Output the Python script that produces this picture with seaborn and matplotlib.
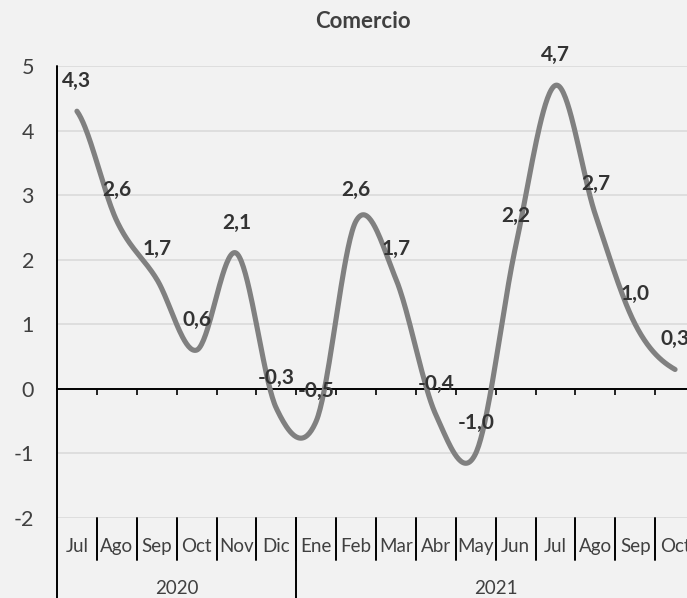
import numpy as np
import pandas as pd
import matplotlib
matplotlib.use("Agg")
import matplotlib.pyplot as plt
import seaborn as sns

# ─── Data ─────────────────────────────────────────────────────────────────────

TITLE = "Comercio"
MONTHS = ["Jul", "Ago", "Sep", "Oct", "Nov", "Dic",
          "Ene", "Feb", "Mar", "Abr", "May", "Jun",
          "Jul", "Ago", "Sep", "Oct"]
YEARS = ["2020", "2021"]
YEAR_SPANS = [6, 10]          # number of months under each year
VALUES = [4.3, 2.6, 1.7, 0.6, 2.1, -0.3,
          -0.5, 2.6, 1.7, -0.4, -1.0, 2.2,
          4.7, 2.7, 1.0, 0.3]
Y_TICKS = [-2, -1, 0, 1, 2, 3, 4, 5]

BG = "#f2f2f2"
LINE = "#808080"
TEXT = "#404040"
GRID = "#d9d9d9"


def smooth_curve(values, steps=40):
    """Catmull-Rom spline through the points (like Excel's smoothed line)."""
    y = np.asarray(values, dtype=float)
    p = np.concatenate([[y[0]], y, [y[-1]]])
    t = np.linspace(0, 1, steps, endpoint=False)
    h00 = 2 * t**3 - 3 * t**2 + 1
    h10 = t**3 - 2 * t**2 + t
    h01 = -2 * t**3 + 3 * t**2
    h11 = t**3 - t**2
    xs, ys = [], []
    for i in range(len(y) - 1):
        p0, p1, p2, p3 = p[i], p[i + 1], p[i + 2], p[i + 3]
        m1 = (p2 - p0) / 2
        m2 = (p3 - p1) / 2
        xs.append(i + t)
        ys.append(h00 * p1 + h10 * m1 + h01 * p2 + h11 * m2)
    xs.append([len(y) - 1])
    ys.append([y[-1]])
    return np.concatenate(xs), np.concatenate(ys)


# ─── Figure ───────────────────────────────────────────────────────────────────

sns.set_theme(style="white")
plt.rcParams["font.family"] = ["Lato", "DejaVu Sans"]

fig = plt.figure(figsize=(6.87, 5.98), dpi=100)
fig.patch.set_facecolor(BG)
ax = fig.add_axes([57 / 687, 80 / 598, 638 / 687, 452 / 598])
ax.set_facecolor(BG)

n = len(VALUES)
sx, sy = smooth_curve(VALUES)
curve = pd.DataFrame({"x": sx, "y": sy})
sns.lineplot(data=curve, x="x", y="y", ax=ax, color=LINE, linewidth=3.7,
             sort=False, zorder=3)
ax.lines[-1].set_solid_capstyle("round")

# data labels centred above each point
for i, v in enumerate(VALUES):
    ax.annotate(f"{v:.1f}".replace(".", ","), (i, v),
                xytext=(0, 22), textcoords="offset points",
                ha="center", va="center", fontsize=15, fontweight="bold",
                color="#333333", zorder=4)

ax.set_xlim(-0.5, n - 0.5)
ax.set_ylim(Y_TICKS[0], Y_TICKS[-1])
ax.set_yticks(Y_TICKS)
ax.set_yticklabels([str(t) for t in Y_TICKS])
ax.yaxis.grid(True, color=GRID, linewidth=1.1)
ax.set_axisbelow(True)
ax.tick_params(axis="y", left=False, length=0, pad=16.5, labelsize=15.5,
               labelcolor=TEXT)

# horizontal axis sits at zero, ticks at the category boundaries
ax.set_xticks(np.arange(n) + 0.5)
ax.set_xticklabels([])
ax.tick_params(axis="x", bottom=True, direction="out", length=4.5,
               width=1.2, color="black")
for side in ["top", "right", "left"]:
    ax.spines[side].set_visible(False)
ax.spines["bottom"].set_position(("data", 0))
ax.spines["bottom"].set_color("black")
ax.spines["bottom"].set_linewidth(1.4)
ax.set_xlabel("")
ax.set_ylabel("")

# left axis line runs down through the category table
ax.axvline(-0.5, ymin=-0.2, ymax=1, color="black", linewidth=1.4,
           clip_on=False, zorder=5)

# two-level category labels below the plot
for i, m in enumerate(MONTHS):
    ax.text(i, -0.0635, m, transform=ax.get_xaxis_transform(),
            ha="center", va="center", fontsize=13.5, color=TEXT)
for b in range(1, n):
    ax.axvline(b - 0.5, ymin=-0.093, ymax=0, color="black", linewidth=1.4,
               clip_on=False)

start = 0
for year, span in zip(YEARS, YEAR_SPANS):
    mid = start + (span - 1) / 2
    ax.text(mid, -0.155, year, transform=ax.get_xaxis_transform(),
            ha="center", va="center", fontsize=13.5, color=TEXT)
    start += span
    ax.axvline(start - 0.5, ymin=-0.2, ymax=0, color="black", linewidth=1.4,
               clip_on=False)

fig.text(363 / 687, 1 - 22 / 598, TITLE, ha="center", va="center",
         fontsize=16, fontweight="bold", color=TEXT)

fig.savefig("out.png", dpi=100, facecolor=fig.get_facecolor())
plt.close(fig)
